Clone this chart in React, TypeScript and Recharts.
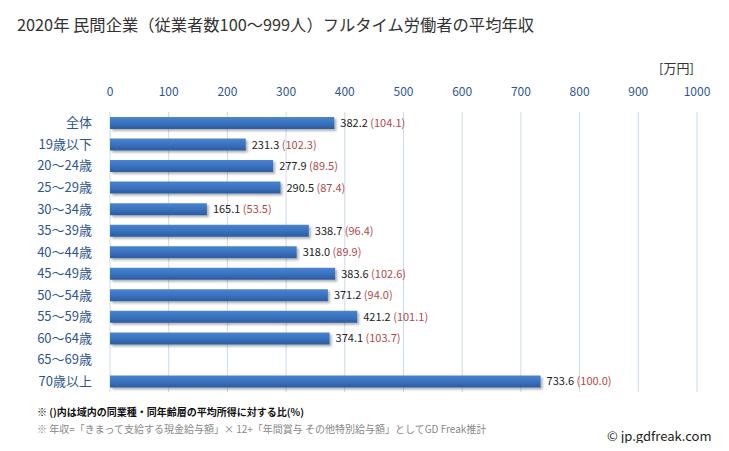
import { BarChart, Bar, XAxis, YAxis, CartesianGrid, LabelList } from 'recharts'

const categories = ['全体', '19歳以下', '20～24歳', '25～29歳', '30～34歳', '35～39歳', '40～44歳', '45～49歳', '50～54歳', '55～59歳', '60～64歳', '65～69歳', '70歳以上']
const incomes: (number | null)[] = [382.2, 231.3, 277.9, 290.5, 165.1, 338.7, 318.0, 383.6, 371.2, 421.2, 374.1, null, 733.6]
const ratios: (number | null)[] = [104.1, 102.3, 89.5, 87.4, 53.5, 96.4, 89.9, 102.6, 94.0, 101.1, 103.7, null, 100.0]
const xTicks = [0, 100, 200, 300, 400, 500, 600, 700, 800, 900, 1000]

const data = categories.map((name, i) => ({ name, income: incomes[i], ratio: ratios[i] }))

const JP = '"Noto Sans CJK JP", "Noto Sans", sans-serif'

// value + ratio label next to each bar
function ValueLabel(props: any) {
  const { x, y, width, height, value } = props
  if (value == null) return null
  const i = incomes.indexOf(Number(value))
  const r = ratios[i]
  return (
    <text x={x + width + 6} y={y + height / 2} dy={4} fontSize={11} fontFamily={JP}>
      <tspan fill="#222">{Number(value).toFixed(1)}</tspan>
      <tspan fill="#b04a4a">{` (${r != null ? r.toFixed(1) : ''})`}</tspan>
    </text>
  )
}

export default function App() {
  return (
    <div style={{ position: 'relative', width: 729, height: 451, margin: -8, boxSizing: 'border-box', border: '2px solid #dde7f3', background: '#fff', fontFamily: JP }}>
      <div style={{ position: 'absolute', left: 15, top: 10, fontSize: 16.3, color: '#333' }}>
        2020年 民間企業（従業者数100～999人）フルタイム労働者の平均年収
      </div>
      <div style={{ position: 'absolute', left: 657, top: 56, fontSize: 13, color: '#333' }}>[万円]</div>
      <div style={{ position: 'absolute', left: 0, top: 0 }}>
        <BarChart
          width={725}
          height={447}
          data={data}
          layout="vertical"
          barSize={12}
          margin={{ top: 80, right: 30, bottom: 57, left: 0 }}
        >
          <defs>
            <linearGradient id="barFill" x1="0" y1="0" x2="0" y2="1">
              <stop offset="0%" stopColor="#4a84d0" />
              <stop offset="50%" stopColor="#3a72bf" />
              <stop offset="100%" stopColor="#2b5c9f" />
            </linearGradient>
            <filter id="shadow" x="-5%" y="-30%" width="110%" height="180%">
              <feDropShadow dx="2" dy="2" stdDeviation="1.2" floodColor="#000" floodOpacity="0.3" />
            </filter>
          </defs>
          <CartesianGrid horizontal={false} stroke="#cbdaeb" />
          <XAxis
            type="number"
            orientation="top"
            domain={[0, 1000]}
            ticks={xTicks}
            interval={0}
            height={30}
            axisLine={false}
            tickLine={false}
            tickMargin={10}
            tick={{ fill: '#2f5591', fontSize: 12, fontFamily: JP }}
          />
          <YAxis
            type="category"
            dataKey="name"
            width={108}
            axisLine={false}
            tickLine={false}
            tickMargin={12}
            interval={0}
            tick={{ fill: '#2f5591', fontSize: 13, fontFamily: JP }}
          />
          <Bar dataKey="income" fill="url(#barFill)" filter="url(#shadow)" isAnimationActive={false}>
            <LabelList dataKey="income" content={<ValueLabel />} />
          </Bar>
        </BarChart>
      </div>
      <div style={{ position: 'absolute', left: 35, top: 402, fontSize: 10, color: '#111', fontWeight: 'bold' }}>
        ※ ()内は域内の同業種・同年齢層の平均所得に対する比(%)
      </div>
      <div style={{ position: 'absolute', left: 35, top: 419, fontSize: 10, color: '#888' }}>
        ※ 年収=「きまって支給する現金給与額」× 12+「年間賞与 その他特別給与額」としてGD Freak推計
      </div>
      <div style={{ position: 'absolute', left: 605, top: 424, fontSize: 13, color: '#222' }}>© jp.gdfreak.com</div>
    </div>
  )
}
